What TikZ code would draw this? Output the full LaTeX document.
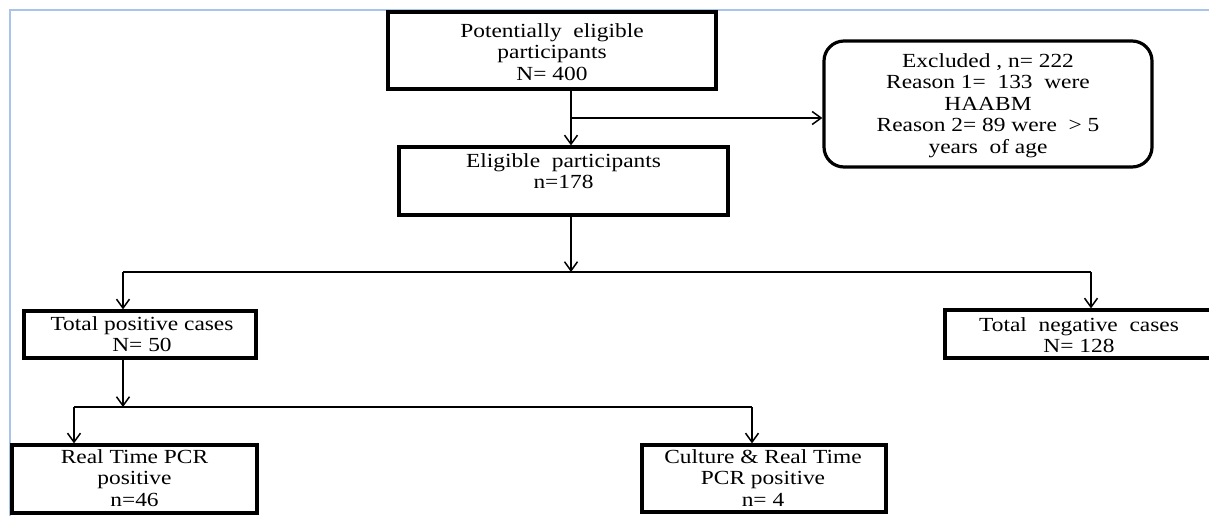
\documentclass[tikz,border=0pt]{standalone}
\usepackage{fontspec}
\setmainfont{Liberation Serif}[FakeStretch=1.17]
\usetikzlibrary{arrows.meta}
\definecolor{framecol}{HTML}{A9C4EB}
\tikzset{
  box/.style={draw=black, line width=3.2pt, inner sep=0pt},
  rbox/.style={box, rounded corners=20pt},
  txt/.style={anchor=north, align=center, inner sep=0pt, font=\fontsize{20pt}{21.5pt}\selectfont},
  conn/.style={draw=black, line width=1.5pt},
  arr/.style={conn, -{Straight Barb[length=9pt,width=13pt,line width=1.5pt]}},
  framel/.style={draw=framecol, line width=1.5pt}
}
\begin{document}
\begin{tikzpicture}[x=1pt,y=-1pt]
\clip (0,0) rectangle (1209,515);
\fill[white] (0,0) rectangle (1209,515);
\draw[framel] (10,520) -- (10,10) -- (1215,10);

% boxes
\node[box, minimum width=328pt, minimum height=77pt] (pot) at (552,50.5) {};
\node[box, minimum width=329pt, minimum height=68pt] (elig) at (563.5,181) {};
\node[rbox, minimum width=328pt, minimum height=126pt] (excl) at (988,104) {};
\node[box, minimum width=232pt, minimum height=47pt] (pos) at (140,334.5) {};
\node[box, minimum width=268pt, minimum height=48pt] (neg) at (1079,334) {};
\node[box, minimum width=245pt, minimum height=68pt] (rt) at (134.5,479) {};
\node[box, minimum width=244pt, minimum height=67pt] (cult) at (764,478.5) {};

% texts
\node[txt] (tpot) at (552,23) {Potentially\ \ eligible\\participants\\N= 400};
\node[txt] (telig) at (563.5,153) {Eligible\ \ participants\\n=178};
\node[txt] (texcl) at (988,53) {Excluded , n= 222\\Reason 1=\ \ 133\ \ were\\HAABM\\Reason 2= 89 were\ \ > 5\\years\ \ of age};
\node[txt] (tpos) at (142,316) {Total\ positive\ cases\\N= 50};
\node[txt] (tneg) at (1079,317) {Total\ \ negative\ \ cases\\N= 128};
\node[txt] (trt) at (134.5,449) {Real Time PCR\\positive\\n=46};
\node[txt] (tcult) at (763,449) {Culture \& Real Time\\PCR positive\\n= 4};

% connectors
\coordinate (b1) at (571,118);
\draw[arr] (pot.south -| b1) -- (elig.north -| b1);
\draw[arr] (b1) -- (excl.west |- b1);

\coordinate (s1) at (571,272);
\coordinate (s1L) at (123,272);
\coordinate (s1R) at (1091,272);
\draw[arr] (elig.south -| s1) -- (s1);
\draw[conn] (s1L) -- (s1R);
\draw[arr] (s1L) -- (pos.north -| s1L);
\draw[arr] (s1R) -- (neg.north -| s1R);

\coordinate (s2) at (123,407);
\coordinate (s2L) at (74,407);
\coordinate (s2R) at (752,407);
\draw[arr] (pos.south -| s2) -- (s2);
\draw[conn] (s2L) -- (s2R);
\draw[arr] (s2L) -- (rt.north -| s2L);
\draw[arr] (s2R) -- (cult.north -| s2R);
\end{tikzpicture}
\end{document}
